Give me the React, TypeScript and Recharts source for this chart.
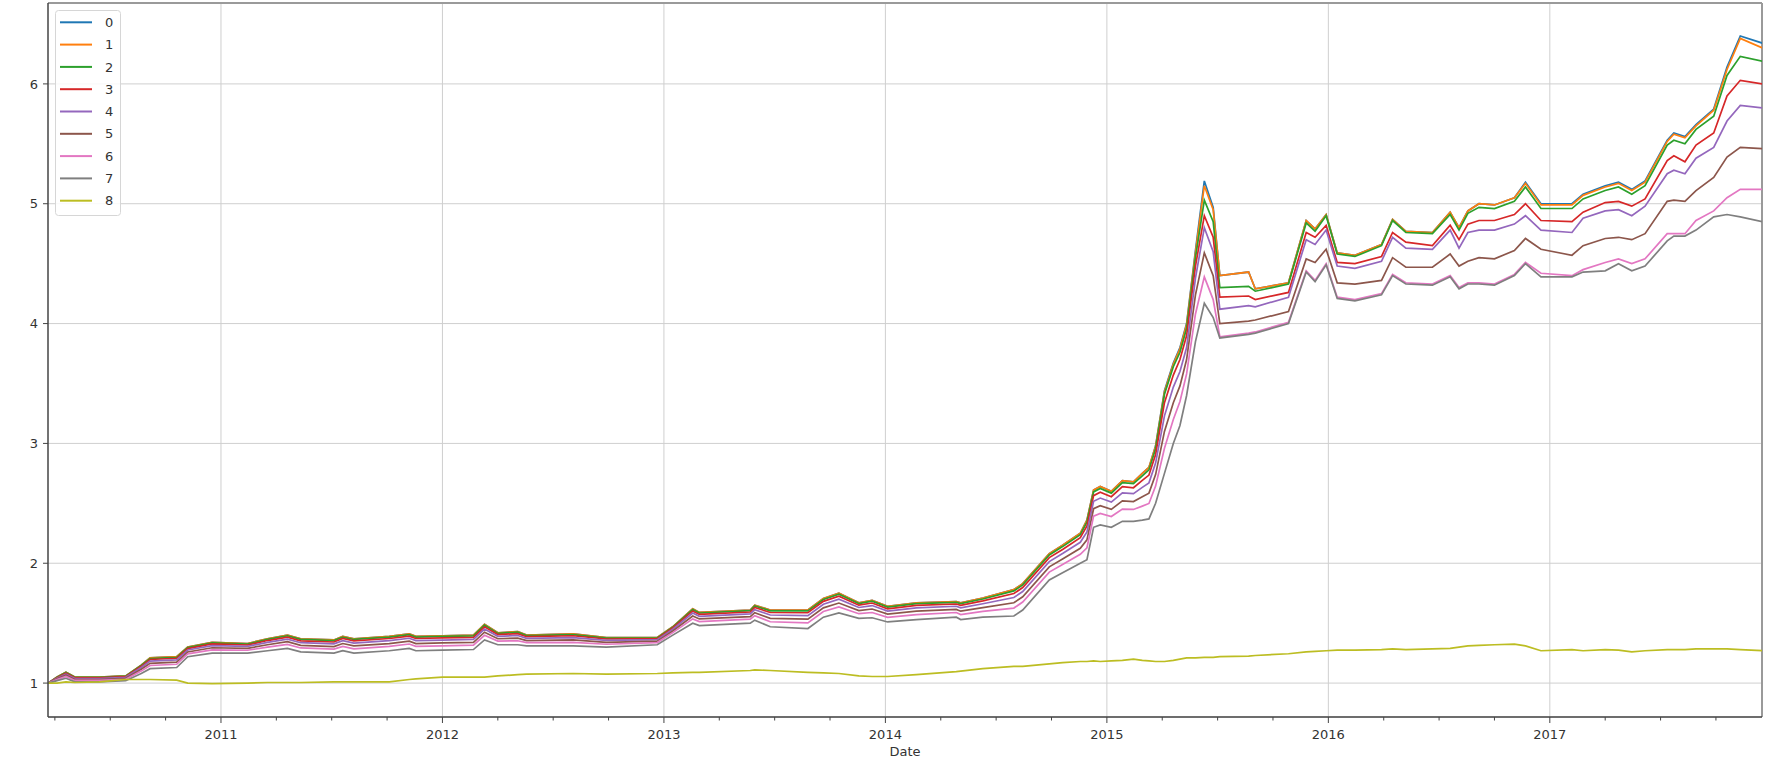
import React from 'react';
import { LineChart, Line, XAxis, YAxis, CartesianGrid, ReferenceLine, Legend } from 'recharts';

const dates = [
  2010.22, 2010.26, 2010.30, 2010.34, 2010.45, 2010.57, 2010.64, 2010.68, 2010.80, 2010.85,
  2010.96, 2011.12, 2011.21, 2011.30, 2011.36, 2011.51, 2011.55, 2011.60, 2011.76, 2011.85,
  2011.88, 2012.00, 2012.14, 2012.19, 2012.25, 2012.34, 2012.38, 2012.59, 2012.74, 2012.97,
  2013.04, 2013.13, 2013.16, 2013.39, 2013.41, 2013.48, 2013.65, 2013.72, 2013.79, 2013.88,
  2013.94, 2014.01, 2014.14, 2014.32, 2014.34, 2014.44, 2014.58, 2014.62, 2014.74, 2014.80,
  2014.88, 2014.91, 2014.94, 2014.97, 2015.02, 2015.07, 2015.12, 2015.16, 2015.19, 2015.22,
  2015.26, 2015.30, 2015.33, 2015.36, 2015.40, 2015.44, 2015.48, 2015.51, 2015.64, 2015.67,
  2015.82, 2015.90, 2015.94, 2015.99, 2016.04, 2016.12, 2016.24, 2016.29, 2016.35, 2016.47,
  2016.55, 2016.59, 2016.63, 2016.68, 2016.75, 2016.84, 2016.89, 2016.96, 2017.10, 2017.15,
  2017.25, 2017.31, 2017.37, 2017.43, 2017.53, 2017.56, 2017.61, 2017.66, 2017.74, 2017.80,
  2017.86, 2017.96,
];

const s0 = [
  1.00, 1.05, 1.09, 1.05, 1.05, 1.06, 1.15, 1.21, 1.22, 1.30,
  1.34, 1.33, 1.37, 1.40, 1.37, 1.36, 1.39, 1.37, 1.39, 1.41,
  1.39, 1.395, 1.40, 1.49, 1.42, 1.43, 1.40, 1.41, 1.38, 1.38,
  1.47, 1.62, 1.59, 1.61, 1.65, 1.61, 1.61, 1.705, 1.75, 1.67,
  1.69, 1.64, 1.67, 1.68, 1.67, 1.71, 1.78, 1.83, 2.08, 2.15,
  2.25, 2.36, 2.61, 2.64, 2.60, 2.69, 2.68, 2.75, 2.80, 2.98,
  3.44, 3.67, 3.80, 4.00, 4.61, 5.19, 4.97, 4.40, 4.43, 4.29,
  4.34, 4.86, 4.79, 4.91, 4.59, 4.57, 4.66, 4.87, 4.77, 4.76,
  4.93, 4.80, 4.94, 5.00, 4.99, 5.05, 5.18, 5.00, 5.00, 5.08,
  5.15, 5.18, 5.12, 5.19, 5.53, 5.59, 5.56, 5.66, 5.79, 6.14,
  6.40, 6.34,
];

const s1 = [
  1.00, 1.05, 1.09, 1.05, 1.05, 1.06, 1.15, 1.21, 1.22, 1.30,
  1.34, 1.33, 1.37, 1.40, 1.37, 1.36, 1.39, 1.37, 1.39, 1.41,
  1.39, 1.395, 1.40, 1.49, 1.42, 1.43, 1.40, 1.41, 1.38, 1.38,
  1.47, 1.62, 1.59, 1.61, 1.65, 1.61, 1.61, 1.705, 1.75, 1.67,
  1.69, 1.64, 1.67, 1.68, 1.67, 1.71, 1.78, 1.83, 2.08, 2.15,
  2.25, 2.36, 2.61, 2.64, 2.60, 2.69, 2.68, 2.75, 2.80, 2.975,
  3.43, 3.66, 3.79, 3.99, 4.59, 5.15, 4.95, 4.40, 4.43, 4.29,
  4.34, 4.86, 4.79, 4.91, 4.59, 4.57, 4.66, 4.87, 4.77, 4.76,
  4.93, 4.80, 4.94, 5.00, 4.99, 5.05, 5.17, 4.99, 4.99, 5.07,
  5.14, 5.17, 5.11, 5.18, 5.52, 5.58, 5.55, 5.65, 5.78, 6.12,
  6.38, 6.30,
];

const s2 = [
  1.00, 1.048, 1.088, 1.048, 1.048, 1.058, 1.147, 1.205, 1.215, 1.296,
  1.336, 1.326, 1.365, 1.395, 1.365, 1.355, 1.384, 1.364, 1.384, 1.404,
  1.384, 1.389, 1.394, 1.484, 1.415, 1.425, 1.396, 1.405, 1.376, 1.377,
  1.467, 1.614, 1.585, 1.605, 1.644, 1.603, 1.602, 1.697, 1.742, 1.664,
  1.683, 1.634, 1.663, 1.674, 1.663, 1.702, 1.769, 1.819, 2.069, 2.139,
  2.238, 2.344, 2.595, 2.624, 2.585, 2.673, 2.664, 2.73, 2.779, 2.956,
  3.41, 3.64, 3.76, 3.96, 4.55, 5.03, 4.85, 4.30, 4.31, 4.27,
  4.33, 4.84, 4.77, 4.90, 4.58, 4.56, 4.65, 4.86, 4.76, 4.75,
  4.91, 4.78, 4.92, 4.97, 4.96, 5.02, 5.14, 4.96, 4.96, 5.04,
  5.11, 5.14, 5.08, 5.15, 5.49, 5.53, 5.50, 5.62, 5.73, 6.07,
  6.23, 6.19,
];

const s3 = [
  1.00, 1.045, 1.083, 1.044, 1.044, 1.054, 1.14, 1.197, 1.207, 1.288,
  1.327, 1.318, 1.355, 1.383, 1.353, 1.343, 1.372, 1.352, 1.372, 1.392,
  1.372, 1.377, 1.382, 1.47, 1.405, 1.413, 1.387, 1.395, 1.368, 1.371,
  1.46, 1.602, 1.573, 1.593, 1.631, 1.589, 1.587, 1.682, 1.725, 1.65,
  1.668, 1.62, 1.649, 1.66, 1.649, 1.686, 1.747, 1.797, 2.047, 2.115,
  2.213, 2.311, 2.564, 2.592, 2.555, 2.639, 2.63, 2.692, 2.736, 2.908,
  3.34, 3.57, 3.70, 3.90, 4.48, 4.90, 4.72, 4.22, 4.23, 4.20,
  4.26, 4.76, 4.72, 4.82, 4.51, 4.50, 4.56, 4.76, 4.68, 4.65,
  4.82, 4.70, 4.83, 4.86, 4.86, 4.91, 5.00, 4.86, 4.85, 4.93,
  5.01, 5.02, 4.98, 5.04, 5.36, 5.40, 5.35, 5.49, 5.59, 5.90,
  6.03, 6.00,
];

const s4 = [
  1.00, 1.041, 1.075, 1.038, 1.038, 1.048, 1.13, 1.183, 1.193, 1.276,
  1.313, 1.306, 1.34, 1.367, 1.337, 1.327, 1.354, 1.334, 1.354, 1.374,
  1.354, 1.359, 1.364, 1.451, 1.39, 1.397, 1.373, 1.38, 1.356, 1.362,
  1.449, 1.584, 1.557, 1.577, 1.613, 1.568, 1.563, 1.658, 1.70, 1.631,
  1.647, 1.601, 1.628, 1.641, 1.628, 1.662, 1.714, 1.764, 2.014, 2.081,
  2.175, 2.261, 2.517, 2.544, 2.51, 2.588, 2.581, 2.633, 2.671, 2.836,
  3.23, 3.47, 3.60, 3.80, 4.38, 4.80, 4.60, 4.12, 4.15, 4.14,
  4.22, 4.70, 4.66, 4.78, 4.48, 4.46, 4.52, 4.72, 4.63, 4.62,
  4.78, 4.63, 4.76, 4.78, 4.78, 4.83, 4.90, 4.78, 4.76, 4.88,
  4.94, 4.95, 4.90, 4.98, 5.25, 5.28, 5.25, 5.38, 5.47, 5.69,
  5.82, 5.80,
];

const s5 = [
  1.00, 1.035, 1.065, 1.03, 1.03, 1.04, 1.115, 1.165, 1.175, 1.26,
  1.295, 1.29, 1.32, 1.345, 1.315, 1.305, 1.33, 1.31, 1.33, 1.35,
  1.33, 1.335, 1.34, 1.425, 1.37, 1.375, 1.355, 1.36, 1.34, 1.35,
  1.435, 1.56, 1.535, 1.555, 1.588, 1.54, 1.533, 1.628, 1.668, 1.605,
  1.618, 1.575, 1.60, 1.615, 1.60, 1.63, 1.67, 1.72, 1.97, 2.035,
  2.125, 2.195, 2.455, 2.48, 2.45, 2.52, 2.515, 2.555, 2.585, 2.74,
  3.10, 3.34, 3.48, 3.70, 4.24, 4.59, 4.40, 4.00, 4.02, 4.03,
  4.10, 4.54, 4.51, 4.62, 4.34, 4.33, 4.36, 4.55, 4.47, 4.47,
  4.58, 4.48, 4.52, 4.55, 4.54, 4.61, 4.71, 4.62, 4.57, 4.65,
  4.71, 4.72, 4.70, 4.75, 5.02, 5.03, 5.02, 5.11, 5.22, 5.39,
  5.47, 5.46,
];

const s6 = [
  1.00, 1.029, 1.055, 1.022, 1.022, 1.032, 1.10, 1.147, 1.157, 1.244,
  1.277, 1.274, 1.30, 1.323, 1.293, 1.283, 1.306, 1.286, 1.306, 1.326,
  1.306, 1.311, 1.316, 1.399, 1.35, 1.353, 1.337, 1.34, 1.324, 1.338,
  1.421, 1.536, 1.513, 1.533, 1.563, 1.512, 1.502, 1.597, 1.635, 1.579,
  1.589, 1.549, 1.572, 1.589, 1.572, 1.598, 1.626, 1.676, 1.926, 1.989,
  2.075, 2.129, 2.393, 2.416, 2.39, 2.452, 2.449, 2.477, 2.499, 2.644,
  2.96, 3.20, 3.35, 3.58, 4.08, 4.39, 4.20, 3.89, 3.92, 3.93,
  4.01, 4.44, 4.36, 4.50, 4.22, 4.20, 4.25, 4.41, 4.34, 4.33,
  4.40, 4.30, 4.34, 4.34, 4.33, 4.41, 4.51, 4.42, 4.40, 4.45,
  4.51, 4.54, 4.50, 4.54, 4.75, 4.75, 4.75, 4.86, 4.94, 5.05,
  5.12, 5.12,
];

const s7 = [
  1.00, 1.02, 1.04, 1.01, 1.01, 1.02, 1.08, 1.12, 1.13, 1.22,
  1.25, 1.25, 1.27, 1.29, 1.26, 1.25, 1.27, 1.25, 1.27, 1.29,
  1.27, 1.275, 1.28, 1.36, 1.32, 1.32, 1.31, 1.31, 1.30, 1.32,
  1.40, 1.50, 1.48, 1.50, 1.525, 1.47, 1.455, 1.55, 1.585, 1.54,
  1.545, 1.51, 1.53, 1.55, 1.53, 1.55, 1.56, 1.61, 1.86, 1.92,
  2.00, 2.03, 2.30, 2.32, 2.30, 2.35, 2.35, 2.36, 2.37, 2.50,
  2.75, 3.00, 3.15, 3.40, 3.85, 4.17, 4.05, 3.88, 3.91, 3.92,
  4.00, 4.43, 4.35, 4.49, 4.21, 4.19, 4.24, 4.40, 4.33, 4.32,
  4.39, 4.29, 4.33, 4.33, 4.32, 4.40, 4.50, 4.39, 4.39, 4.43,
  4.44, 4.50, 4.44, 4.48, 4.69, 4.73, 4.73, 4.78, 4.89, 4.91,
  4.89, 4.85,
];

const s8 = [
  1.00, 1.00, 1.01, 1.005, 1.01, 1.03, 1.03, 1.03, 1.025, 1.00,
  0.995, 1.00, 1.005, 1.005, 1.005, 1.01, 1.01, 1.01, 1.01, 1.03,
  1.035, 1.05, 1.05, 1.05, 1.06, 1.07, 1.075, 1.08, 1.075, 1.08,
  1.085, 1.09, 1.09, 1.105, 1.11, 1.105, 1.09, 1.085, 1.08, 1.06,
  1.055, 1.055, 1.07, 1.095, 1.10, 1.12, 1.14, 1.14, 1.16, 1.17,
  1.18, 1.18, 1.185, 1.18, 1.185, 1.19, 1.20, 1.19, 1.185, 1.18,
  1.18, 1.19, 1.20, 1.21, 1.21, 1.215, 1.215, 1.22, 1.225, 1.23,
  1.245, 1.26, 1.265, 1.27, 1.275, 1.275, 1.28, 1.285, 1.28, 1.285,
  1.29, 1.30, 1.31, 1.315, 1.32, 1.325, 1.31, 1.27, 1.28, 1.27,
  1.28, 1.275, 1.26, 1.27, 1.28, 1.28, 1.28, 1.285, 1.285, 1.285,
  1.28, 1.27,
];

const seriesNames = ['0', '1', '2', '3', '4', '5', '6', '7', '8'];
const seriesValues = [s0, s1, s2, s3, s4, s5, s6, s7, s8];
const seriesColors = ['#1f77b4', '#ff7f0e', '#2ca02c', '#d62728', '#9467bd', '#8c564b', '#e377c2', '#7f7f7f', '#bcbd22'];

const yTicks = [1, 2, 3, 4, 5, 6];
const yearTicks = [2011, 2012, 2013, 2014, 2015, 2016, 2017];
const quarterTicks = [
  2010.25, 2010.5, 2010.75, 2011, 2011.25, 2011.5, 2011.75, 2012, 2012.25, 2012.5, 2012.75,
  2013, 2013.25, 2013.5, 2013.75, 2014, 2014.25, 2014.5, 2014.75, 2015, 2015.25, 2015.5, 2015.75,
  2016, 2016.25, 2016.5, 2016.75, 2017, 2017.25, 2017.5, 2017.75,
];
const xLabel = 'Date';

const X_MIN = 2010.219;
const X_MAX = 2017.958;
const Y_MIN = 0.717;
const Y_MAX = 6.675;

const data = dates.map((d, i) => {
  const row: Record<string, number> = { date: d };
  seriesNames.forEach((n, k) => {
    row[n] = seriesValues[k][i];
  });
  return row;
});

const FONT = 'DejaVu Sans, sans-serif';
const TEXT = '#333333';

const XTick = (props: any) => {
  const { x, y, payload } = props;
  const v = payload.value as number;
  const major = Math.abs(v - Math.round(v)) < 1e-6;
  return (
    <g>
      <line x1={x} x2={x} y1={y} y2={y + (major ? 6 : 3.5)} stroke="#444" strokeWidth={1} />
      {major && (
        <text x={x} y={y + 22} textAnchor="middle" fontFamily={FONT} fontSize={13} fill={TEXT}>
          {String(Math.round(v))}
        </text>
      )}
    </g>
  );
};

const LegendBox = () => {
  const rowH = 22.3;
  return (
    <svg width={66} height={206} style={{ display: 'block' }}>
      <rect x={0.5} y={0.5} width={65} height={205} rx={3} ry={3} fill="rgba(255,255,255,0.85)" stroke="#d6d6d6" strokeWidth={1} />
      {seriesNames.map((n, k) => {
        const cy = 12.3 + k * rowH;
        return (
          <g key={n}>
            <line x1={5} x2={37} y1={cy} y2={cy} stroke={seriesColors[k]} strokeWidth={2} />
            <text x={50} y={cy} dy="0.36em" fontFamily={FONT} fontSize={13} fill={TEXT}>
              {n}
            </text>
          </g>
        );
      })}
    </svg>
  );
};

export default function App() {
  return (
    <div style={{ position: 'absolute', left: 0, top: 0, width: 1779, height: 765, background: '#fff' }}>
      <LineChart width={1779} height={765} data={data} margin={{ top: 3, right: 17, left: 0, bottom: 0 }}>
        <CartesianGrid vertical={false} stroke="#cfcfcf" strokeWidth={1} />
        {yearTicks.map((yr) => (
          <ReferenceLine key={yr} x={yr} stroke="#cfcfcf" strokeWidth={1} />
        ))}
        <XAxis
          dataKey="date"
          type="number"
          domain={[X_MIN, X_MAX]}
          allowDataOverflow
          ticks={quarterTicks}
          interval={0}
          tickLine={false}
          tickSize={0}
          tickMargin={0}
          tick={<XTick />}
          height={48}
          axisLine={{ stroke: '#444', strokeWidth: 1.5 }}
          label={{ value: xLabel, position: 'insideBottom', offset: 9, fill: TEXT, fontSize: 13, fontFamily: FONT }}
        />
        <YAxis
          type="number"
          domain={[Y_MIN, Y_MAX]}
          allowDataOverflow
          ticks={yTicks}
          interval={0}
          width={48}
          tickSize={5}
          tickMargin={5}
          tickLine={{ stroke: '#444' }}
          axisLine={{ stroke: '#444', strokeWidth: 1.5 }}
          tick={{ fill: TEXT, fontSize: 13, fontFamily: FONT }}
        />
        <ReferenceLine y={Y_MAX} stroke="#9a9a9a" strokeWidth={2} />
        <ReferenceLine x={X_MAX} stroke="#9a9a9a" strokeWidth={2} />
        {seriesNames.map((n, k) => (
          <Line
            key={n}
            type="linear"
            dataKey={n}
            name={n}
            stroke={seriesColors[k]}
            strokeWidth={1.7}
            dot={false}
            activeDot={false}
            isAnimationActive={false}
          />
        ))}
        <Legend
          layout="horizontal"
          verticalAlign="middle"
          align="center"
          wrapperStyle={{ left: 55, top: 10, width: 66, height: 206 }}
          content={() => <LegendBox />}
        />
      </LineChart>
    </div>
  );
}
